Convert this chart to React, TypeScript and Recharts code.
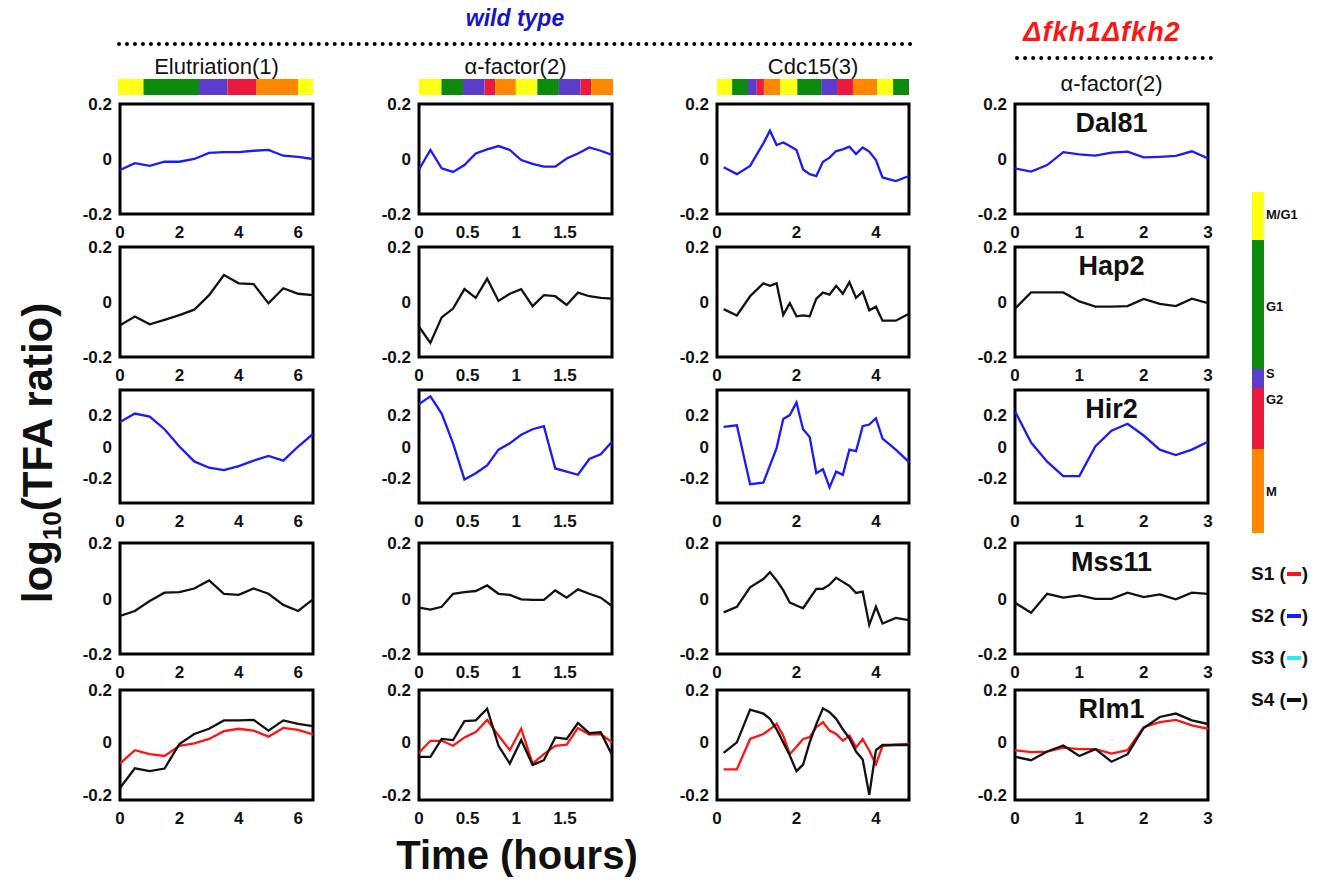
import React from "react";
import { LineChart, Line, XAxis, YAxis, ReferenceArea, BarChart, Bar } from "recharts";

const FONT = '"Liberation Sans", Arial, Helvetica, sans-serif';

// sampling times (hours) for each experiment
const elutTime = [0, 0.5, 1, 1.5, 2, 2.5, 3, 3.5, 4, 4.5, 5, 5.5, 6, 6.5];
const alphaTime = [0, 0.117, 0.233, 0.35, 0.467, 0.583, 0.7, 0.817, 0.933, 1.05, 1.167, 1.283, 1.4, 1.517, 1.633, 1.75, 1.867, 1.983];
const cdc15Time = [0.167, 0.5, 0.833, 1.167, 1.333, 1.5, 1.667, 1.833, 2, 2.167, 2.333, 2.5, 2.667, 2.833, 3, 3.167, 3.333, 3.5, 3.667, 3.833, 4, 4.167, 4.5, 4.833];
const fkhTime = [0, 0.25, 0.5, 0.75, 1, 1.25, 1.5, 1.75, 2, 2.25, 2.5, 2.75, 3];

const elutTicks = [0, 2, 4, 6];
const alphaTicks = [0, 0.5, 1, 1.5];
const cdc15Ticks = [0, 2, 4];
const fkhTicks = [0, 1, 2, 3];
const yTicks = [-0.2, 0, 0.2];

// log10(TFA ratio) per gene
const dal81Elut = [-0.04, -0.015, -0.025, -0.01, -0.01, 0.0, 0.022, 0.025, 0.025, 0.03, 0.033, 0.012, 0.008, 0.0];
const dal81Alpha = [-0.038, 0.033, -0.034, -0.047, -0.022, 0.02, 0.035, 0.047, 0.033, -0.004, -0.018, -0.028, -0.028, 0.002, 0.02, 0.042, 0.03, 0.015];
const dal81Cdc15 = [-0.03, -0.055, -0.025, 0.057, 0.103, 0.051, 0.06, 0.047, 0.033, -0.038, -0.055, -0.062, -0.01, 0.005, 0.029, 0.035, 0.045, 0.018, 0.042, 0.027, -0.004, -0.067, -0.08, -0.062];
const dal81Fkh = [-0.034, -0.046, -0.022, 0.025, 0.017, 0.012, 0.023, 0.027, 0.006, 0.008, 0.011, 0.028, 0.002];

const hap2Elut = [-0.085, -0.053, -0.081, -0.065, -0.048, -0.028, 0.025, 0.098, 0.068, 0.065, -0.005, 0.05, 0.03, 0.025];
const hap2Alpha = [-0.09, -0.149, -0.056, -0.024, 0.047, 0.015, 0.085, 0.004, 0.03, 0.047, -0.015, 0.025, 0.021, -0.011, 0.034, 0.021, 0.015, 0.012];
const hap2Cdc15 = [-0.026, -0.049, 0.021, 0.068, 0.059, 0.068, -0.047, -0.004, -0.052, -0.049, -0.052, 0.012, 0.034, 0.027, 0.059, 0.03, 0.072, 0.015, 0.038, -0.03, -0.017, -0.068, -0.068, -0.043];
const hap2Fkh = [-0.024, 0.035, 0.035, 0.035, 0.002, -0.017, -0.017, -0.015, 0.011, -0.007, -0.015, 0.012, -0.004];

const hir2Elut = [0.156, 0.21, 0.19, 0.11, 0.0, -0.095, -0.135, -0.15, -0.125, -0.09, -0.06, -0.09, 0.0, 0.08];
const hir2Alpha = [0.27, 0.32, 0.21, 0.02, -0.21, -0.17, -0.12, -0.02, 0.02, 0.075, 0.11, 0.13, -0.14, -0.16, -0.18, -0.08, -0.05, 0.03];
const hir2Cdc15 = [0.125, 0.135, -0.24, -0.23, -0.12, -0.01, 0.175, 0.2, 0.28, 0.11, 0.06, -0.17, -0.145, -0.26, -0.16, -0.18, -0.02, -0.03, 0.13, 0.14, 0.18, 0.05, -0.02, -0.1];
const hir2Fkh = [0.225, 0.025, -0.097, -0.189, -0.189, 0.002, 0.101, 0.145, 0.07, -0.02, -0.055, -0.02, 0.03];

const mss11Elut = [-0.063, -0.045, -0.009, 0.021, 0.023, 0.036, 0.065, 0.017, 0.013, 0.036, 0.017, -0.023, -0.045, -0.003];
const mss11Alpha = [-0.033, -0.04, -0.03, 0.017, 0.023, 0.027, 0.047, 0.017, 0.013, -0.003, -0.005, -0.005, 0.029, 0.003, 0.033, 0.017, 0.003, -0.027];
const mss11Cdc15 = [-0.05, -0.03, 0.04, 0.07, 0.095, 0.065, 0.03, -0.015, -0.025, -0.035, 0.0, 0.035, 0.035, 0.05, 0.075, 0.06, 0.045, 0.02, 0.025, -0.095, -0.03, -0.09, -0.07, -0.078];
const mss11Fkh = [-0.015, -0.051, 0.017, 0.003, 0.011, -0.001, -0.001, 0.021, 0.005, 0.015, -0.003, 0.021, 0.017];

const rlm1ElutS4 = [-0.174, -0.099, -0.11, -0.1, -0.006, 0.032, 0.052, 0.084, 0.084, 0.086, 0.045, 0.084, 0.071, 0.062];
const rlm1ElutS1 = [-0.081, -0.03, -0.045, -0.052, -0.013, -0.004, 0.013, 0.043, 0.052, 0.045, 0.022, 0.055, 0.048, 0.03];
const rlm1AlphaS4 = [-0.055, -0.055, 0.013, 0.009, 0.081, 0.084, 0.129, -0.013, -0.081, 0.009, -0.086, -0.068, 0.019, 0.013, 0.074, 0.035, 0.039, -0.048];
const rlm1AlphaS1 = [-0.039, 0.006, 0.006, -0.013, 0.019, 0.039, 0.086, 0.026, -0.03, 0.052, -0.081, -0.045, -0.013, -0.009, 0.055, 0.03, 0.032, 0.0];
const rlm1Cdc15S4 = [-0.04, 0.0, 0.125, 0.11, 0.09, 0.05, 0.0, -0.05, -0.11, -0.085, 0.0, 0.07, 0.13, 0.115, 0.09, 0.05, 0.015, -0.035, -0.065, -0.2, -0.03, -0.01, -0.01, -0.01];
const rlm1Cdc15S1 = [-0.103, -0.103, 0.013, 0.032, 0.05, 0.071, 0.026, -0.045, -0.017, 0.013, 0.02, 0.058, 0.077, 0.045, 0.032, 0.006, 0.026, -0.019, 0.013, -0.032, -0.084, -0.013, -0.009, -0.006];
const rlm1FkhS4 = [-0.055, -0.068, -0.035, -0.012, -0.052, -0.026, -0.074, -0.045, 0.055, 0.097, 0.11, 0.084, 0.07];
const rlm1FkhS1 = [-0.03, -0.037, -0.035, -0.02, -0.026, -0.026, -0.043, -0.03, 0.058, 0.077, 0.086, 0.065, 0.052];

// cell-cycle phase strips above the wild type panels (phase boundaries in hours)
const elutPhases = ["M/G1", "G1", "S", "G2", "M", "M/G1"];
const elutBounds = [0, 0.85, 2.7, 3.65, 4.6, 6.0, 6.5];
const alphaPhases = ["M/G1", "G1", "S", "G2", "M", "M/G1", "G1", "S", "G2", "M"];
const alphaBounds = [0, 0.23, 0.45, 0.67, 0.78, 0.99, 1.21, 1.43, 1.65, 1.76, 1.983];
const cdc15Phases = ["M/G1", "G1", "S", "G2", "M", "M/G1", "G1", "S", "G2", "M", "M/G1", "G1"];
const cdc15Bounds = [0, 0.38, 0.78, 1.0, 1.18, 1.59, 2.02, 2.62, 3.02, 3.42, 4.03, 4.43, 4.83];

const legendPhases = ["M/G1", "G1", "S", "G2", "M"];
const legendSizes = [48, 129, 19, 61, 84];

const PHASE_COLORS: Record<string, string> = {
  "M/G1": "#ffff14",
  G1: "#0b8a0b",
  S: "#5b3dcc",
  G2: "#ea1a3e",
  M: "#ff8800",
};

const BLUE = "#1a1aff";
const RED = "#ff1414";
const BLACK = "#111111";

const COLS = [
  { left: 120, width: 193, xMax: 6.5, ticks: elutTicks, time: elutTime },
  { left: 419, width: 193, xMax: 1.983, ticks: alphaTicks, time: alphaTime },
  { left: 717, width: 192, xMax: 4.833, ticks: cdc15Ticks, time: cdc15Time },
  { left: 1015, width: 193, xMax: 3, ticks: fkhTicks, time: fkhTime },
];

const ROWS = [
  { name: "Dal81", top: 104, height: 110, domain: [-0.2, 0.2], series: [[dal81Elut], [dal81Alpha], [dal81Cdc15], [dal81Fkh]], colors: [BLUE] },
  { name: "Hap2", top: 247, height: 110, domain: [-0.2, 0.2], series: [[hap2Elut], [hap2Alpha], [hap2Cdc15], [hap2Fkh]], colors: [BLACK] },
  { name: "Hir2", top: 390, height: 113, domain: [-0.36, 0.36], series: [[hir2Elut], [hir2Alpha], [hir2Cdc15], [hir2Fkh]], colors: [BLUE] },
  { name: "Mss11", top: 543, height: 111, domain: [-0.2, 0.2], series: [[mss11Elut], [mss11Alpha], [mss11Cdc15], [mss11Fkh]], colors: [BLACK] },
  {
    name: "Rlm1", top: 690, height: 110, domain: [-0.22, 0.2],
    series: [[rlm1ElutS1, rlm1ElutS4], [rlm1AlphaS1, rlm1AlphaS4], [rlm1Cdc15S1, rlm1Cdc15S4], [rlm1FkhS1, rlm1FkhS4]],
    colors: [RED, BLACK],
  },
];

const tickStyle = { fill: "#111", fontSize: 17, fontWeight: 700, fontFamily: FONT };

function Panel({ col, row, ci }: any) {
  const YW = 50, MT = 14, MR = 12, XH = 34;
  const lists: number[][] = row.series[ci];
  const data = col.time.map((t: number, i: number) => {
    const d: any = { t };
    lists.forEach((s, k) => (d["s" + k] = s[i]));
    return d;
  });
  return (
    <div style={{ position: "absolute", left: col.left - YW, top: row.top - MT }}>
      <LineChart width={YW + col.width + MR} height={MT + row.height + XH} data={data} margin={{ top: MT, right: MR, left: 0, bottom: 0 }}>
        <XAxis dataKey="t" type="number" domain={[0, col.xMax]} ticks={col.ticks} interval={0} allowDataOverflow
          axisLine={false} tickLine={false} tickMargin={6} height={XH} tick={tickStyle} />
        <YAxis type="number" domain={row.domain} ticks={yTicks} interval={0} allowDataOverflow
          axisLine={false} tickLine={false} width={YW} tick={tickStyle} />
        {lists.map((_, k) => (
          <Line key={k} dataKey={"s" + k} type="linear" stroke={row.colors[k]} strokeWidth={2.3} dot={false} isAnimationActive={false} />
        ))}
        <ReferenceArea x1={0} x2={col.xMax} y1={row.domain[0]} y2={row.domain[1]} fill="none" stroke="#000" strokeWidth={3} />
      </LineChart>
    </div>
  );
}

function PhaseStrip({ phases, bounds, xMax, left, top, width, height }: any) {
  const row: any = { name: "phase" };
  phases.forEach((_: string, i: number) => (row["seg" + i] = bounds[i + 1] - bounds[i]));
  return (
    <div style={{ position: "absolute", left, top }}>
      <BarChart width={width} height={height} data={[row]} layout="vertical" barCategoryGap={0} margin={{ top: 0, right: 0, left: 0, bottom: 0 }}>
        <XAxis type="number" domain={[0, xMax]} hide allowDataOverflow />
        <YAxis type="category" dataKey="name" hide />
        {phases.map((p: string, i: number) => (
          <Bar key={i} dataKey={"seg" + i} stackId="a" fill={PHASE_COLORS[p]} isAnimationActive={false} />
        ))}
      </BarChart>
    </div>
  );
}

function PhaseLegend() {
  const row: any = { name: "legend" };
  legendPhases.forEach((_, i) => (row["seg" + i] = legendSizes[i]));
  const total = legendSizes.reduce((a, b) => a + b, 0);
  const labelTop = [215, 307, 374, 400, 492];
  return (
    <>
      <div style={{ position: "absolute", left: 1252, top: 192 }}>
        <BarChart width={12} height={341} data={[row]} barCategoryGap={0} margin={{ top: 0, right: 0, left: 0, bottom: 0 }}>
          <XAxis type="category" dataKey="name" hide />
          <YAxis type="number" domain={[0, total]} reversed hide />
          {legendPhases.map((p, i) => (
            <Bar key={i} dataKey={"seg" + i} stackId="a" fill={PHASE_COLORS[p]} isAnimationActive={false} />
          ))}
        </BarChart>
      </div>
      {legendPhases.map((l, i) => (
        <div key={l} style={{ position: "absolute", left: 1266, top: labelTop[i] - 9, fontSize: 13, fontWeight: 700, lineHeight: "18px" }}>{l}</div>
      ))}
    </>
  );
}

const seriesLegend = [
  { label: "S1", color: RED, top: 574 },
  { label: "S2", color: BLUE, top: 616 },
  { label: "S3", color: "#22eeee", top: 658 },
  { label: "S4", color: BLACK, top: 700 },
];

const colTitles = ["Elutriation(1)", "\u03b1-factor(2)", "Cdc15(3)"];

export default function App() {
  return (
    <div style={{ position: "absolute", left: 0, top: 0, width: 1318, height: 886, background: "#fff", fontFamily: FONT, color: "#111" }}>
      {/* group headers */}
      <div style={{ position: "absolute", left: 515, top: 18, transform: "translate(-50%,-50%)", color: "#1414c8", fontWeight: 700, fontStyle: "italic", fontSize: 23, whiteSpace: "nowrap" }}>wild type</div>
      <div style={{ position: "absolute", left: 117, top: 42, width: 796, borderTop: "4px dotted #000" }} />
      <div style={{ position: "absolute", left: 1102, top: 32, transform: "translate(-50%,-50%)", color: RED, fontWeight: 700, fontStyle: "italic", fontSize: 27, letterSpacing: 1, whiteSpace: "nowrap" }}>{"\u0394fkh1\u0394fkh2"}</div>
      <div style={{ position: "absolute", left: 1015, top: 56, width: 198, borderTop: "4px dotted #000" }} />

      {colTitles.map((t, i) => (
        <div key={t} style={{ position: "absolute", left: COLS[i].left + COLS[i].width / 2, top: 67, transform: "translate(-50%,-50%)", fontSize: 22, whiteSpace: "nowrap" }}>{t}</div>
      ))}
      <div style={{ position: "absolute", left: COLS[3].left + COLS[3].width / 2, top: 84, transform: "translate(-50%,-50%)", fontSize: 22, whiteSpace: "nowrap" }}>{"\u03b1-factor(2)"}</div>

      <PhaseStrip phases={elutPhases} bounds={elutBounds} xMax={6.5} left={118} top={79} width={195} height={16} />
      <PhaseStrip phases={alphaPhases} bounds={alphaBounds} xMax={1.983} left={419} top={79} width={194} height={16} />
      <PhaseStrip phases={cdc15Phases} bounds={cdc15Bounds} xMax={4.83} left={717} top={79} width={192} height={16} />

      {ROWS.map((row) =>
        COLS.map((col, ci) => <Panel key={row.name + ci} row={row} col={col} ci={ci} />)
      )}

      {ROWS.map((row) => (
        <div key={row.name} style={{ position: "absolute", left: COLS[3].left + COLS[3].width / 2, top: row.top + 19, transform: "translate(-50%,-50%)", fontSize: 27, fontWeight: 700, whiteSpace: "nowrap" }}>{row.name}</div>
      ))}

      {/* axis titles */}
      <div style={{ position: "absolute", left: 41, top: 453, transform: "translate(-50%,-50%) rotate(-90deg)", fontSize: 42, fontWeight: 700, whiteSpace: "nowrap" }}>
        log<sub style={{ fontSize: "0.62em" }}>10</sub>(TFA ratio)
      </div>
      <div style={{ position: "absolute", left: 517, top: 855, transform: "translate(-50%,-50%)", fontSize: 40, fontWeight: 700, whiteSpace: "nowrap" }}>Time (hours)</div>

      <PhaseLegend />

      {seriesLegend.map((s) => (
        <div key={s.label} style={{ position: "absolute", left: 1251, top: s.top - 12, fontSize: 19, fontWeight: 700, lineHeight: "24px", whiteSpace: "nowrap", display: "flex", alignItems: "center" }}>
          <span>{s.label} (</span>
          <span style={{ display: "inline-block", width: 14, height: 4, background: s.color, margin: "0 1px" }} />
          <span>)</span>
        </div>
      ))}
    </div>
  );
}
